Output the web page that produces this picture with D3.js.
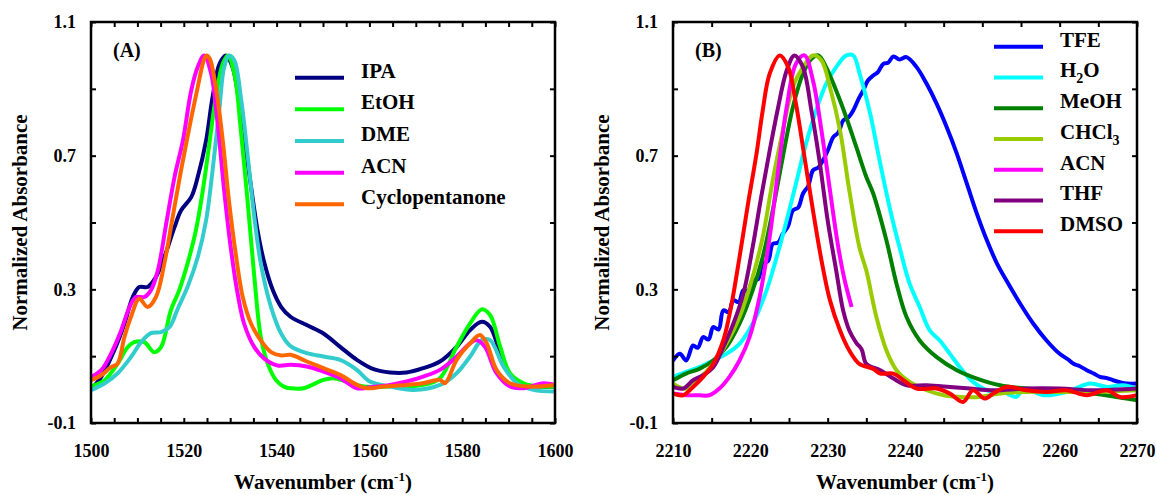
<!DOCTYPE html>
<html>
<head>
<meta charset="utf-8">
<script src="https://cdn.jsdelivr.net/npm/d3@7"></script>
<style>
  body { margin: 0; background: #fff; }
  svg text { font-family: "Liberation Serif", "Times New Roman", serif; font-weight: bold; fill: #000; }
</style>
</head>
<body>
<svg id="chart" width="1156" height="495"></svg>
<script>
// ---- panel A data (wavenumber, normalized absorbance) ----
var ipa = [[1500,0.0],[1502.2,0.038],[1505,0.117],[1507.2,0.197],[1509,0.277],[1510.4,0.307],[1512.2,0.307],[1514,0.337],[1515.8,0.396],[1518,0.486],[1519.4,0.536],[1521.6,0.576],[1523,0.636],[1524.8,0.745],[1526.2,0.875],[1527.7,0.975],[1529.1,1.0],[1530.5,0.965],[1532.3,0.825],[1534.1,0.646],[1535.9,0.476],[1537.4,0.377],[1539.2,0.297],[1541,0.247],[1543,0.218],[1546.5,0.193],[1550.1,0.168],[1553.7,0.128],[1557.3,0.089],[1560.9,0.061],[1564.5,0.051],[1568,0.051],[1571.6,0.064],[1575.2,0.084],[1578.8,0.128],[1581.7,0.178],[1584.2,0.203],[1586,0.188],[1588.2,0.109],[1590.3,0.044],[1593.2,0.014],[1596.8,0.009],[1600,0.009]];
var etoh = [[1500,0.01],[1502.9,0.028],[1505.7,0.077],[1507.9,0.127],[1509.3,0.142],[1511.5,0.142],[1513.6,0.112],[1515.1,0.127],[1517.2,0.237],[1519,0.297],[1520.8,0.377],[1522.6,0.476],[1524.1,0.596],[1525.5,0.735],[1526.9,0.875],[1528.4,0.975],[1529.5,1.0],[1530.9,0.945],[1532.3,0.775],[1533.8,0.556],[1535.2,0.337],[1536.6,0.157],[1538.1,0.077],[1539.9,0.028],[1541.7,0.008],[1543,0.004],[1545.8,0.004],[1550.1,0.029],[1552.2,0.034],[1555.1,0.024],[1558.7,0.009],[1564.5,0.009],[1571.6,0.014],[1575.2,0.034],[1578.8,0.128],[1581.7,0.198],[1584.2,0.24],[1586,0.223],[1588.2,0.128],[1590.3,0.049],[1593.2,0.019],[1596.8,0.009],[1600,0.009]];
var dme = [[1500,-0.002],[1502.9,0.018],[1505.7,0.048],[1508.6,0.097],[1510.8,0.142],[1512.9,0.169],[1515.1,0.172],[1516.9,0.187],[1518.7,0.242],[1520.8,0.307],[1523,0.396],[1524.8,0.506],[1526.2,0.656],[1527.7,0.845],[1528.7,0.965],[1529.8,1.0],[1530.9,0.985],[1532.3,0.875],[1533.8,0.696],[1535.2,0.516],[1536.6,0.377],[1538.8,0.247],[1541,0.167],[1543,0.13],[1546.5,0.109],[1550.1,0.099],[1553.7,0.089],[1557.3,0.059],[1560.1,0.024],[1564.5,0.009],[1569.5,-0.001],[1575.2,0.014],[1578.8,0.049],[1581.7,0.099],[1584.2,0.148],[1586,0.148],[1588.9,0.069],[1591.8,0.019],[1595.3,-0.001],[1600,-0.006]];
var acnA = [[1500,0.038],[1502.2,0.058],[1504.3,0.107],[1506.5,0.177],[1508.3,0.247],[1509.7,0.277],[1511.5,0.277],[1512.9,0.297],[1514.4,0.356],[1516.2,0.496],[1518,0.636],[1519.8,0.745],[1521.6,0.895],[1523,0.965],[1524.4,1.0],[1525.9,0.945],[1527.3,0.795],[1528.7,0.596],[1530.2,0.416],[1531.6,0.287],[1533,0.197],[1535.2,0.127],[1537.4,0.092],[1540.2,0.072],[1543,0.074],[1546.5,0.069],[1550.1,0.054],[1553.7,0.034],[1557.3,0.004],[1560.1,0.007],[1564.5,0.014],[1568,0.024],[1571.6,0.039],[1575.2,0.059],[1578.8,0.099],[1581.7,0.138],[1583.1,0.148],[1584.9,0.128],[1587.4,0.049],[1590.3,0.009],[1593.2,0.004],[1597.5,0.019],[1600,0.014]];
var cyclo = [[1500,0.028],[1502.2,0.043],[1504.3,0.067],[1505.7,0.077],[1507.2,0.157],[1508.6,0.217],[1510.4,0.272],[1512.2,0.247],[1514,0.277],[1515.8,0.377],[1517.6,0.516],[1519.4,0.656],[1521.2,0.785],[1523,0.905],[1524.3,0.985],[1524.9,1.0],[1525.6,0.99],[1526.9,0.905],[1528.4,0.745],[1529.8,0.556],[1531.3,0.396],[1532.7,0.277],[1534.5,0.197],[1536.6,0.147],[1538.8,0.112],[1541,0.102],[1543,0.104],[1546.5,0.084],[1550.1,0.064],[1553.7,0.044],[1557.3,0.014],[1559.4,0.004],[1563,0.009],[1568,0.014],[1571.6,0.019],[1575.2,0.029],[1576.3,0.019],[1578.8,0.089],[1581.7,0.138],[1583.8,0.163],[1585.3,0.138],[1587.4,0.059],[1590.3,0.019],[1594.6,0.009],[1600,0.014]];

// ---- panel B data ----
var tfe = [[2210,0.087],[2210.9,0.107],[2211.7,0.087],[2212.6,0.132],[2213.2,0.125],[2213.9,0.157],[2214.6,0.15],[2215.2,0.187],[2215.9,0.18],[2216.5,0.237],[2217.2,0.232],[2217.8,0.267],[2218.5,0.262],[2219.1,0.297],[2219.7,0.295],[2220.3,0.327],[2221,0.33],[2221.6,0.377],[2222.3,0.385],[2222.9,0.436],[2223.6,0.44],[2224.2,0.466],[2224.9,0.49],[2225.5,0.536],[2226.2,0.545],[2226.8,0.586],[2227.5,0.61],[2228.1,0.656],[2228.8,0.665],[2229.4,0.686],[2230.1,0.72],[2230.7,0.755],[2231.4,0.77],[2232,0.805],[2232.7,0.815],[2233.3,0.835],[2234,0.87],[2234.6,0.895],[2235.2,0.925],[2235.9,0.94],[2236.5,0.95],[2237.2,0.975],[2237.8,0.978],[2238.5,0.997],[2239.3,0.988],[2240.2,0.995],[2241.5,0.965],[2242.8,0.915],[2244.1,0.855],[2245.4,0.785],[2246.7,0.706],[2248,0.616],[2249.3,0.526],[2250.6,0.446],[2251.9,0.377],[2253.1,0.327],[2254.9,0.257],[2256.6,0.197],[2258.3,0.147],[2260,0.107],[2261.1,0.09],[2261.8,0.077],[2262.6,0.07],[2263.5,0.058],[2264.4,0.048],[2265.2,0.038],[2266,0.035],[2266.9,0.028],[2267.8,0.022],[2268.7,0.018],[2270,0.018]];
var h2o = [[2210,0.038],[2211.7,0.053],[2213.4,0.067],[2215.2,0.087],[2216.9,0.107],[2218.6,0.137],[2220.3,0.197],[2222.1,0.297],[2223.4,0.396],[2224.7,0.506],[2225.9,0.616],[2227.2,0.736],[2228.5,0.835],[2229.8,0.915],[2231.1,0.965],[2232.4,1.0],[2233.3,1.0],[2234.2,0.94],[2235.5,0.825],[2236.8,0.676],[2238.1,0.536],[2239.4,0.416],[2240.6,0.317],[2241.9,0.247],[2243.2,0.177],[2244.5,0.147],[2245.8,0.107],[2247.1,0.067],[2248.8,0.023],[2250.6,-0.002],[2252.7,-0.007],[2254.4,-0.022],[2255.3,0.003],[2257.9,-0.017],[2260.9,-0.007],[2263.9,0.018],[2266.1,0.008],[2268.2,0.013],[2270,0.003]];
var meoh = [[2210,0.028],[2211.7,0.048],[2213.4,0.062],[2215.2,0.087],[2216.9,0.127],[2218.6,0.197],[2220.3,0.297],[2221.6,0.396],[2222.9,0.536],[2224.2,0.696],[2225.5,0.845],[2226.8,0.945],[2227.9,0.99],[2228.8,1.0],[2229.8,0.965],[2231.1,0.895],[2232.4,0.815],[2233.7,0.726],[2235,0.636],[2235.9,0.586],[2237.6,0.446],[2238.9,0.317],[2240.2,0.217],[2241.9,0.147],[2244.1,0.097],[2246.7,0.058],[2249.3,0.033],[2252.3,0.013],[2255.7,0.003],[2260,-0.002],[2264.3,-0.012],[2270,-0.032]];
var chcl3 = [[2210,0.018],[2211.7,0.003],[2213.4,0.033],[2215.2,0.077],[2216.9,0.137],[2218.6,0.217],[2220.3,0.337],[2221.6,0.456],[2222.9,0.626],[2224.2,0.775],[2225.5,0.905],[2226.8,0.965],[2228.1,1.0],[2229.2,0.985],[2230.3,0.905],[2231.6,0.775],[2232.8,0.596],[2234.1,0.426],[2235,0.356],[2236.3,0.217],[2237.6,0.117],[2238.9,0.058],[2240.6,0.023],[2242.8,-0.002],[2245,-0.017],[2247.1,-0.022],[2249.7,-0.022],[2252.3,-0.012],[2255.7,-0.007],[2260,-0.007],[2264.3,-0.007],[2270,-0.002]];
var acnB = [[2210,-0.012],[2211.7,-0.017],[2213.4,-0.017],[2214.7,-0.017],[2216,0.003],[2217.3,0.038],[2218.6,0.087],[2219.9,0.157],[2221.2,0.277],[2222.5,0.456],[2223.6,0.656],[2224.7,0.845],[2225.9,0.975],[2227,1.0],[2228.1,0.925],[2229.2,0.775],[2230.3,0.596],[2231.3,0.436],[2232.2,0.327],[2233.1,0.247]];
var thf = [[2210,0.008],[2211.3,0.003],[2212.6,0.028],[2213.9,0.043],[2215.2,0.067],[2216.5,0.127],[2217.8,0.197],[2219.1,0.287],[2220.3,0.426],[2221.4,0.576],[2222.5,0.715],[2223.6,0.845],[2224.7,0.955],[2225.7,1.0],[2226.8,0.965],[2227.9,0.835],[2229,0.676],[2230,0.506],[2231.1,0.357],[2232,0.237],[2232.8,0.177],[2233.7,0.14],[2234.4,0.12],[2235,0.077],[2236.8,0.058],[2238.5,0.033],[2240.2,0.013],[2242.8,0.013],[2245.8,0.008],[2248.4,0.003],[2251.4,-0.002],[2255.7,0.003],[2260,0.003],[2264.3,-0.002],[2270,0.003]];
var dmso = [[2210,-0.012],[2211.3,-0.017],[2212.6,0.008],[2213.9,0.038],[2215.2,0.077],[2216.5,0.147],[2217.5,0.247],[2218.6,0.396],[2219.7,0.556],[2220.8,0.706],[2221.6,0.835],[2222.5,0.945],[2223.8,1.0],[2224.9,0.965],[2225.9,0.855],[2227,0.696],[2228.1,0.536],[2229.2,0.387],[2230.3,0.267],[2231.6,0.177],[2232.8,0.117],[2234.1,0.077],[2235.9,0.062],[2236.8,0.048],[2238.5,0.048],[2239.8,0.028],[2241.5,0.003],[2244.1,0.003],[2245.8,-0.012],[2247.5,-0.037],[2248.8,-0.002],[2250.3,-0.027],[2251.4,-0.012],[2253.1,0.008],[2255.7,-0.002],[2258.3,-0.007],[2260.9,-0.002],[2263.5,-0.017],[2266.1,-0.002],[2267.8,-0.022],[2270,-0.017]];

// ---- names, colours, ticks ----
var namesA = ["IPA", "EtOH", "DME", "ACN", "Cyclopentanone"];
var coloursA = ["#000080", "#00ff00", "#33cccc", "#ff00ff", "#ff6600"];
var namesB = [["TFE"], ["H", "2", "O"], ["MeOH"], ["CHCl", "3"], ["ACN"], ["THF"], ["DMSO"]];
var coloursB = ["#0000ff", "#00ffff", "#008000", "#99cc00", "#ff00ff", "#800080", "#ff0000"];
var yTicks = [-0.1, 0.1, 0.3, 0.5, 0.7, 0.9, 1.1];
var yLabels = ["-0.1", "0.3", "0.7", "1.1"];
var xTicksA = d3.range(1500, 1601, 5), xLabelsA = [1500, 1520, 1540, 1560, 1580, 1600];
var xTicksB = d3.range(2210, 2271, 5), xLabelsB = [2210, 2220, 2230, 2240, 2250, 2260, 2270];

var svg = d3.select("#chart");
var plotTop = 22, plotBottom = 423;

function panel(opt) {
    var x = d3.scaleLinear().domain(opt.xdom).range([opt.left, opt.right]);
    var y = d3.scaleLinear().domain([-0.1, 1.1]).range([plotBottom, plotTop]);
    var g = svg.append("g");

    var clipId = "clip" + opt.tag;
    svg.append("clipPath").attr("id", clipId)
        .append("rect").attr("x", opt.left).attr("y", plotTop)
        .attr("width", opt.right - opt.left).attr("height", plotBottom - plotTop);

    // series
    var line = d3.line()
        .x(function(d) { return x(d[0]); })
        .y(function(d) { return y(d[1]); })
        .curve(d3.curveCatmullRom.alpha(0.5));
    g.append("g").attr("clip-path", "url(#" + clipId + ")")
        .selectAll("path").data(opt.series).enter().append("path")
        .attr("d", line)
        .attr("fill", "none")
        .attr("stroke", function(d, i) { return opt.colours[i]; })
        .attr("stroke-width", 4)
        .attr("stroke-linejoin", "round");

    // axes, ticks inward
    var fmtY = function(d) {
        var s = d.toFixed(1);  // plain hyphen minus like the original
        return yLabels.indexOf(s) >= 0 ? s : "";
    };
    var fmtX = function(d) { return opt.xlabels.indexOf(d) >= 0 ? d : ""; };
    var axes = [
        [d3.axisBottom(x).tickValues(opt.xticks).tickFormat(fmtX).tickPadding(21), "translate(0," + plotBottom + ")"],
        [d3.axisTop(x).tickValues(opt.xticks).tickFormat(""), "translate(0," + plotTop + ")"],
        [d3.axisLeft(y).tickValues(yTicks).tickFormat(fmtY).tickPadding(15), "translate(" + opt.left + ",0)"],
        [d3.axisRight(y).tickValues(yTicks).tickFormat(""), "translate(" + opt.right + ",0)"]
    ];
    axes.forEach(function(a) {
        var ag = g.append("g").attr("transform", a[1])
            .call(a[0].tickSizeInner(-5).tickSizeOuter(0));
        ag.select(".domain").remove();
        ag.selectAll("line").attr("stroke", "#000").attr("stroke-width", 2);
        ag.selectAll("text").style("font-size", "18px")
            .style("font-family", "'Liberation Serif', serif").style("font-weight", "bold");
    });

    g.append("rect")
        .attr("x", opt.left).attr("y", plotTop)
        .attr("width", opt.right - opt.left).attr("height", plotBottom - plotTop)
        .attr("fill", "none").attr("stroke", "#000").attr("stroke-width", 2.5);

    // panel tag
    g.append("text").attr("x", opt.left + 22).attr("y", 57)
        .style("font-size", "20px").text("(" + opt.tag + ")");

    // axis titles
    var xt = g.append("text")
        .attr("x", (opt.left + opt.right) / 2).attr("y", 489)
        .attr("text-anchor", "middle").style("font-size", "21px");
    xt.append("tspan").text("Wavenumber (cm");
    xt.append("tspan").attr("dy", -8).style("font-size", "13px").text("-1");
    xt.append("tspan").attr("dy", 8).text(")");

    g.append("text")
        .attr("transform", "translate(" + (opt.left - 64) + "," + ((plotTop + plotBottom) / 2) + ") rotate(-90)")
        .attr("text-anchor", "middle").style("font-size", "21px")
        .text("Normalized Absorbance");

    // legend
    var lg = g.selectAll(".leg").data(opt.names).enter().append("g")
        .attr("transform", function(d, i) { return "translate(0," + (opt.legY + i * opt.legStep) + ")"; });
    lg.append("line")
        .attr("x1", opt.legX).attr("x2", opt.legX + 49)
        .attr("stroke", function(d, i) { return opt.colours[i]; })
        .attr("stroke-width", 4);
    var lt = lg.append("text").attr("x", opt.legX + 66).attr("dy", "0.34em")
        .style("font-size", "21px");
    lt.each(function(d) {
        var t = d3.select(this);
        var parts = Array.isArray(d) ? d : [d];
        parts.forEach(function(p, k) {
            if (k % 2 === 1) {
                t.append("tspan").attr("dy", 6).style("font-size", "14px").text(p);
            } else {
                t.append("tspan").attr("dy", k > 0 ? -6 : 0).text(p);
            }
        });
    });
}

panel({
    tag: "A", left: 91, right: 555, xdom: [1500, 1600],
    xticks: xTicksA, xlabels: xLabelsA,
    series: [ipa, etoh, dme, acnA, cyclo], colours: coloursA, names: namesA,
    legX: 295, legY: 77.7, legStep: 31.65
});
panel({
    tag: "B", left: 673, right: 1137, xdom: [2210, 2270],
    xticks: xTicksB, xlabels: xLabelsB,
    series: [tfe, h2o, meoh, chcl3, acnB, thf, dmso], colours: coloursB, names: namesB,
    legX: 994, legY: 46.7, legStep: 30.75
});
</script>
</body>
</html>
